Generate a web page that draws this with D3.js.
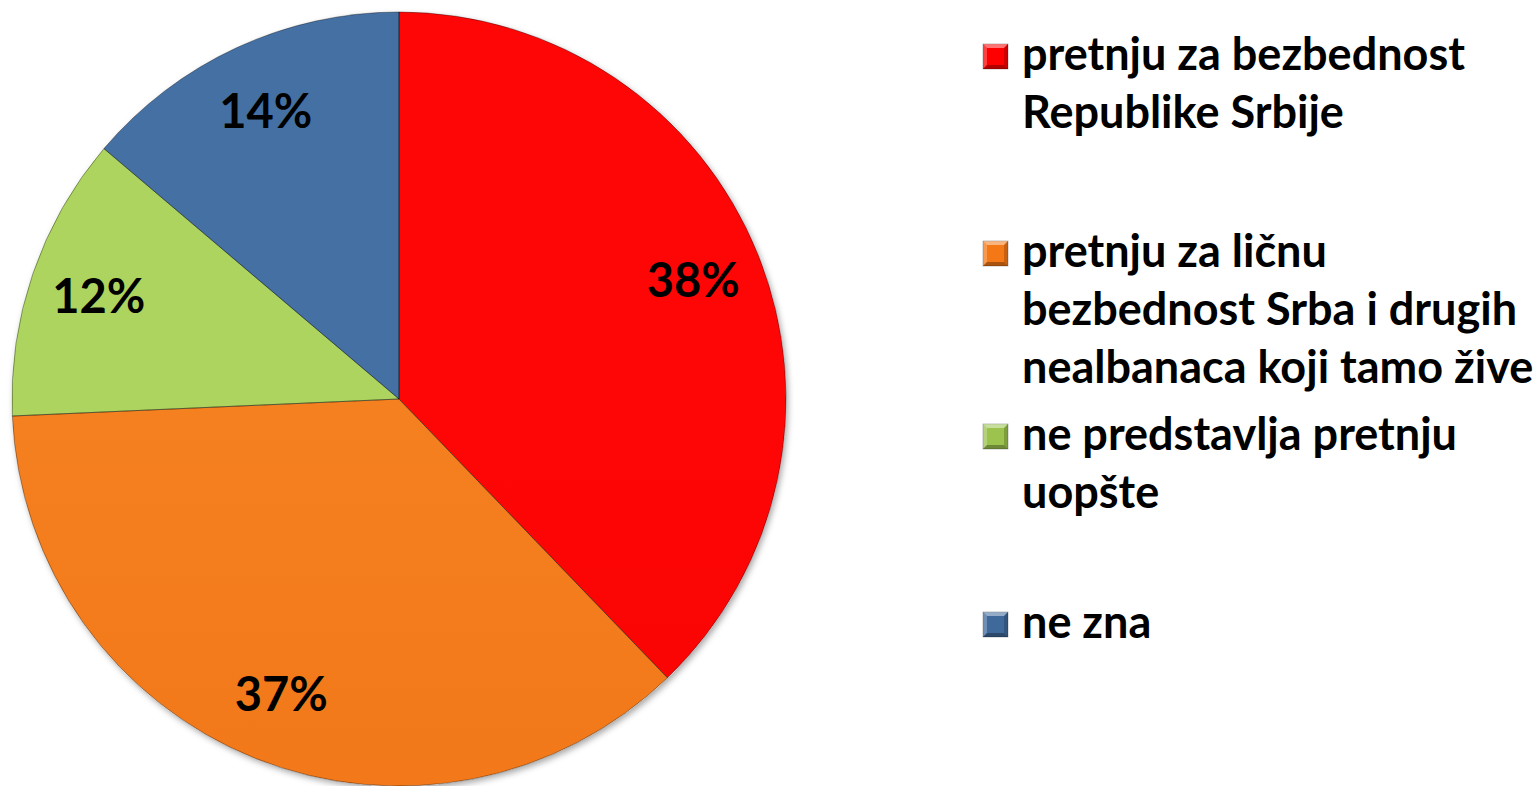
<!DOCTYPE html>
<html>
<head>
<meta charset="utf-8">
<script src="https://cdn.jsdelivr.net/npm/d3@7"></script>
<style>
  html, body { margin: 0; padding: 0; background: #fff; }
  svg { display: block; }
</style>
</head>
<body>
<script>
/*** data ***/
const categories = [
  "pretnju za bezbednost Republike Srbije",
  "pretnju za ličnu bezbednost Srba i drugih nealbanaca koji tamo žive",
  "ne predstavlja pretnju uopšte",
  "ne zna"
];
const values = [37.8, 36.5, 11.9, 13.8];
const legendLines = [
  ["pretnju za bezbednost", "Republike Srbije"],
  ["pretnju za ličnu", "bezbednost Srba i drugih", "nealbanaca koji tamo žive"],
  ["ne predstavlja pretnju", "uopšte"],
  ["ne zna"]
];
const colors = ["#fe0000", "#f47816", "#9cc34e", "#3f699b"];
const colorsTop = ["#ff0606", "#f58020", "#acd45e", "#4470a3"];
const colorsBottom = ["#f20000", "#ef7012", "#86ab40", "#3a6293"];

/*** layout ***/
const width = 1539, height = 786;
const cx = 399, cy = 399, radius = 387;
const legendX = 983, textX = 1022, lineHeight = 58;
const legendBaselines = [70, 267, 450, 638];

const svg = d3.select("body").append("svg")
  .attr("width", width)
  .attr("height", height);

const defs = svg.append("defs");

// soft drop shadow under the pie
const shadow = defs.append("filter").attr("id", "shadow")
  .attr("x", "-10%").attr("y", "-10%").attr("width", "120%").attr("height", "120%");
shadow.append("feDropShadow")
  .attr("dx", 2).attr("dy", 3).attr("stdDeviation", 3)
  .attr("flood-color", "#000").attr("flood-opacity", 0.35);

// vertical gradient per slice
colors.forEach((c, i) => {
  const g = defs.append("linearGradient").attr("id", "fill" + i)
    .attr("gradientUnits", "userSpaceOnUse")
    .attr("x1", 0).attr("y1", cy - radius).attr("x2", 0).attr("y2", cy + radius);
  g.append("stop").attr("offset", 0).attr("stop-color", colorsTop[i]);
  g.append("stop").attr("offset", 1).attr("stop-color", colorsBottom[i]);
});

// bevel: light from top-left, shade to bottom-right
const bevel = defs.append("linearGradient").attr("id", "bevel")
  .attr("gradientUnits", "userSpaceOnUse")
  .attr("x1", cx - radius * 0.7).attr("y1", cy - radius * 0.7)
  .attr("x2", cx + radius * 0.7).attr("y2", cy + radius * 0.7);
bevel.append("stop").attr("offset", 0).attr("stop-color", "#fff").attr("stop-opacity", 0.4);
bevel.append("stop").attr("offset", 0.5).attr("stop-color", "#fff").attr("stop-opacity", 0.18);
bevel.append("stop").attr("offset", 0.75).attr("stop-color", "#000").attr("stop-opacity", 0.1);
bevel.append("stop").attr("offset", 1).attr("stop-color", "#000").attr("stop-opacity", 0.35);

const pie = d3.pie().sort(null).value(d => d);
const arcs = pie(values);
const arc = d3.arc().innerRadius(0).outerRadius(radius);
const labelArc = d3.arc().innerRadius(radius * 0.82).outerRadius(radius * 0.82);

const g = svg.append("g").attr("transform", `translate(${cx},${cy})`);

// shadow base
g.append("circle").attr("r", radius).attr("fill", "#fff").attr("filter", "url(#shadow)");

arcs.forEach((d, i) => {
  defs.append("clipPath").attr("id", "clip" + i)
    .append("path").attr("transform", `translate(${cx},${cy})`).attr("d", arc(d));
});

g.selectAll("path.slice")
  .data(arcs)
  .join("path")
  .attr("class", "slice")
  .attr("d", arc)
  .attr("fill", (d, i) => `url(#fill${i})`);

// inner bevel band, clipped to the slice
svg.append("g").selectAll("path.bevel")
  .data(arcs)
  .join("path")
  .attr("class", "bevel")
  .attr("clip-path", (d, i) => `url(#clip${i})`)
  .attr("transform", `translate(${cx},${cy})`)
  .attr("d", arc)
  .attr("fill", "none")
  .attr("stroke", "url(#bevel)")
  .attr("stroke-width", 12)
  .attr("stroke-linejoin", "round");

// thin dark outline
svg.append("g").attr("transform", `translate(${cx},${cy})`)
  .selectAll("path")
  .data(arcs)
  .join("path")
  .attr("d", arc)
  .attr("fill", "none")
  .attr("stroke", "rgba(0,0,0,0.35)")
  .attr("stroke-width", 1);

// percentage labels
svg.append("g").attr("transform", `translate(${cx},${cy})`)
  .selectAll("text")
  .data(arcs)
  .join("text")
  .attr("transform", d => `translate(${labelArc.centroid(d)})`)
  .attr("text-anchor", "middle")
  .attr("dy", "0.36em")
  .style("font-family", "Lato, 'Open Sans', sans-serif")
  .style("font-weight", 700)
  .style("font-size", "47px")
  .attr("fill", "#000")
  .text(d => Math.round(d.data) + "%");

/*** legend ***/
const legend = svg.append("g")
  .selectAll("g")
  .data(categories)
  .join("g")
  .attr("transform", (d, i) => `translate(0,${legendBaselines[i]})`);

const m = 25, b = 4;
legend.append("rect")
  .attr("x", legendX).attr("y", -m - 1)
  .attr("width", m).attr("height", m)
  .attr("fill", (d, i) => colors[i])
  .attr("stroke", "rgba(0,0,0,0.3)")
  .attr("stroke-width", 0.8);

// pyramid-style bevel on the markers
const facets = [
  { pts: [[0, 0], [m, 0], [m - b, b], [b, b]], fill: "rgba(255,255,255,0.45)" },
  { pts: [[0, 0], [b, b], [b, m - b], [0, m]], fill: "rgba(255,255,255,0.25)" },
  { pts: [[m, 0], [m, m], [m - b, m - b], [m - b, b]], fill: "rgba(0,0,0,0.18)" },
  { pts: [[0, m], [b, m - b], [m - b, m - b], [m, m]], fill: "rgba(0,0,0,0.3)" }
];
legend.each(function () {
  d3.select(this).selectAll("polygon")
    .data(facets)
    .join("polygon")
    .attr("transform", `translate(${legendX},${-m - 1})`)
    .attr("points", f => f.pts.map(p => p.join(",")).join(" "))
    .attr("fill", f => f.fill);
});

legend.append("text")
  .style("font-family", "Lato, 'Open Sans', sans-serif")
  .style("font-weight", 700)
  .style("font-size", "45px")
  .attr("fill", "#000")
  .selectAll("tspan")
  .data((d, i) => legendLines[i])
  .join("tspan")
  .attr("x", textX)
  .attr("y", (d, j) => j * lineHeight)
  .text(d => d);
</script>
</body>
</html>
